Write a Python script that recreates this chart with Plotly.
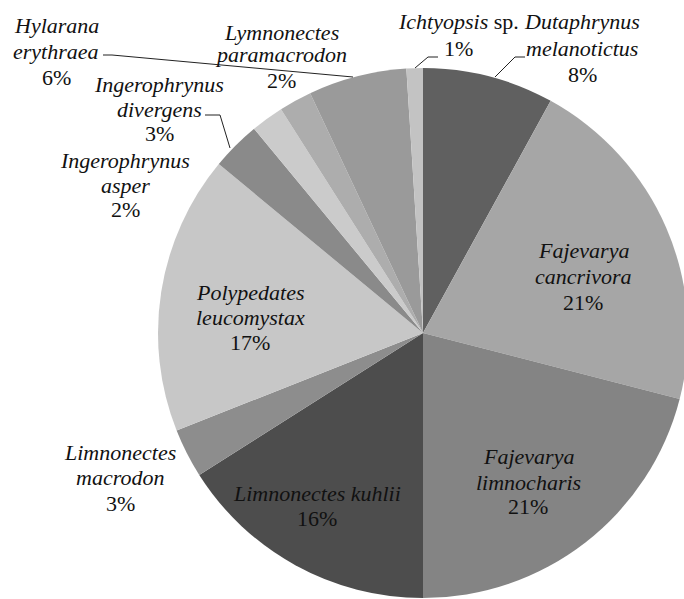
import plotly.graph_objects as go

# ---- data ----
species = [
    "Dutaphrynus melanotictus",
    "Fajevarya cancrivora",
    "Fajevarya limnocharis",
    "Limnonectes kuhlii",
    "Limnonectes macrodon",
    "Polypedates leucomystax",
    "Ingerophrynus divergens",
    "Ingerophrynus asper",
    "Lymnonectes paramacrodon",
    "Hylarana erythraea",
    "Ichtyopsis sp.",
]
percent = [8, 21, 21, 16, 3, 17, 3, 2, 2, 6, 1]

# ---- styles ----
colors = ["#606060", "#a6a6a6", "#848484", "#4d4d4d", "#8d8d8d", "#c7c7c7",
          "#8a8a8a", "#cbcbcb", "#adadad", "#9a9a9a", "#c3c3c3"]

# label line texts (name split into lines; percent appended) and pixel positions
name_lines = [
    ["<i>Dutaphrynus</i>", "<i>melanotictus</i>"],
    ["<i>Fajevarya</i>", "<i>cancrivora</i>"],
    ["<i>Fajevarya</i>", "<i>limnocharis</i>"],
    ["<i>Limnonectes kuhlii</i>"],
    ["<i>Limnonectes</i>", "<i>macrodon</i>"],
    ["<i>Polypedates</i>", "<i>leucomystax</i>"],
    ["<i>Ingerophrynus</i>", "<i>divergens</i>"],
    ["<i>Ingerophrynus</i>", "<i>asper</i>"],
    ["<i>Lymnonectes</i>", "<i>paramacrodon</i>"],
    ["<i>Hylarana</i>", "<i>erythraea</i>"],
    ["<i>Ichtyopsis</i> sp."],
]
label_x = [582, 583, 528, 317, 120, 250, 159, 125, 281, 56, 458]
label_y = [[22, 48, 75], [250, 277, 302], [457, 482, 507], [493, 518],
           [452, 477, 503], [292, 317, 342], [85, 110, 133], [160, 185, 210],
           [32, 55, 80], [25, 52, 77], [22, 48]]

leaders = [
    [(438, 57), (428, 57), (415, 68)],
    [(525, 57), (515, 57), (495, 77)],
    [(103, 55), (112, 55), (353, 77)],
    [(205, 115), (220, 115), (230, 148)],
]

# figure is slightly wider than the 684px window; the overflow is clipped
W, H = 692, 599
FONT = "Liberation Serif"


def px(x):
    return x / W


def py(y):
    return 1 - y / H


fig = go.Figure(go.Pie(
    labels=species,
    values=percent,
    sort=False,
    direction="clockwise",
    rotation=0,
    marker=dict(colors=colors, line=dict(width=0)),
    textinfo="none",
    hoverinfo="label+percent",
    domain=dict(x=[158 / W, 688 / W], y=[1 / H, 1 - 68 / H]),
    showlegend=False,
))

annotations = []
for i, lines in enumerate(name_lines):
    texts = lines + [f"{percent[i]}%"]
    for t, yy in zip(texts, label_y[i]):
        annotations.append(dict(
            x=px(label_x[i]), y=py(yy), xref="paper", yref="paper",
            text=t, showarrow=False, xanchor="center", yanchor="middle",
            font=dict(family=FONT, size=22, color="#111111"),
        ))

shapes = []
for pts in leaders:
    path = "M " + " L ".join(f"{px(a)},{py(b)}" for a, b in pts)
    shapes.append(dict(type="path", xref="paper", yref="paper", path=path,
                       line=dict(color="#222222", width=1)))

fig.update_layout(
    width=W, height=H,
    margin=dict(l=0, r=0, t=0, b=0),
    paper_bgcolor="white",
    plot_bgcolor="white",
    font=dict(family=FONT),
    annotations=annotations,
    shapes=shapes,
)

fig.write_html("out.html", config={"displayModeBar": False},
               post_script="document.body.style.margin='0';document.body.style.overflow='hidden';")
